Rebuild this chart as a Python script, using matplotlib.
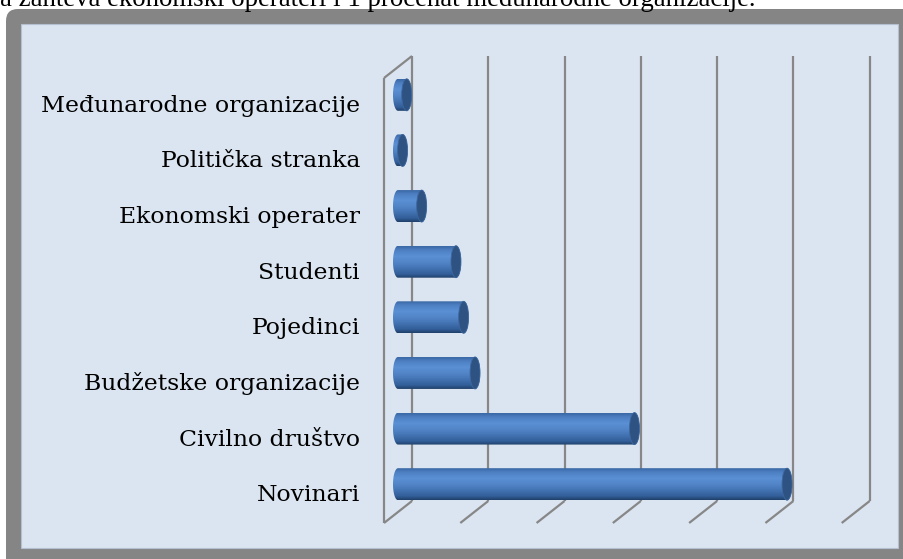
import numpy as np
import matplotlib
matplotlib.use("Agg")
import matplotlib.pyplot as plt
import matplotlib.transforms as mtransforms
from matplotlib.colors import LinearSegmentedColormap
from matplotlib.patches import FancyBboxPatch, Rectangle, Ellipse, PathPatch
from matplotlib.path import Path

# data (bottom to top)
categories = ["Novinari", "Civilno društvo", "Budžetske organizacije", "Pojedinci",
              "Studenti", "Ekonomski operater", "Politička stranka",
              "Međunarodne organizacije"]
values = [255, 155, 50.5, 43, 38, 15.5, 3, 5.7]
grid_ticks = [0, 50, 100, 150, 200, 250, 300]
caption = "a zahteva ekonomski operateri i 1 procenat međunarodne organizacije."

W, H = 904, 559
fig = plt.figure(figsize=(W / 100, H / 100), dpi=100)
fig.patch.set_facecolor("white")

# gray frame + light blue chart area
frame = FancyBboxPatch((0.06, -0.5), 10.5, 6.0,
                       boxstyle="round,pad=0,rounding_size=0.12",
                       transform=fig.dpi_scale_trans, facecolor="#858585",
                       edgecolor="none", zorder=-3)
fig.patches.append(frame)
fig.patches.append(Rectangle((1.0, -0.5), 9.0, 6.0, transform=fig.dpi_scale_trans,
                             facecolor="#858585", edgecolor="none", zorder=-3))
inner = Rectangle((0.21, 0.11), 8.77, 5.24, transform=fig.dpi_scale_trans,
                  facecolor="#dbe5f1", edgecolor="#b4c0cf", linewidth=0.8,
                  zorder=-2)
fig.patches.append(inner)

fig.text(755 / W, 1 - 6 / H, caption, ha="right", va="baseline",
         fontsize=19.3, family="Liberation Serif", color="black")

# back wall of the 3d plot
ax_l, ax_r, ax_t, ax_b = 412, 869.7, 56, 501
ax = fig.add_axes([ax_l / W, (H - ax_b) / H, (ax_r - ax_l) / W, (ax_b - ax_t) / H])
ax.set_xlim(0, 300)
ax.set_ylim(-0.5, 7.5)
ax.axis("off")

px_x = (ax_r - ax_l) / 300.0
px_y = (ax_b - ax_t) / 8.0
depth_x, depth_y = -28, -22   # pixels from back plane to front plane


def shift(dx, dy):
    return ax.transData + mtransforms.ScaledTranslation(dx / 100, dy / 100,
                                                        fig.dpi_scale_trans)


grid_kw = dict(color="#878787", lw=1.6, clip_on=False, solid_capstyle="butt")
for t in grid_ticks:
    ax.plot([t, t], [-0.5, 7.5], **grid_kw)
    ax.plot([t, t + depth_x / px_x], [-0.5, -0.5 + depth_y / px_y], **grid_kw)
# left wall
front = shift(depth_x, depth_y)
ax.plot([0, 0], [-0.5, 7.5], transform=front, **grid_kw)
ax.plot([0, depth_x / px_x], [7.5, 7.5 + depth_y / px_y], **grid_kw)

# cylinders in the middle depth plane
mid = shift(depth_x / 2, depth_y / 2)
bar_h = 32 / px_y
cap_a = 5 / px_x
cmap = LinearSegmentedColormap.from_list(
    "cyl", [(0.0, "#20406a"), (0.12, "#335f9a"), (0.45, "#4f82c4"),
            (0.68, "#5b90d5"), (0.88, "#4d7fc2"), (1.0, "#3b68a5")])
grad = np.linspace(0, 1, 64).reshape(-1, 1)
th = np.linspace(-np.pi / 2, np.pi / 2, 40)

for i, v in enumerate(values):
    y0, y1 = i - bar_h / 2, i + bar_h / 2
    # right side goes top -> bottom, left side bottom -> top
    right = np.column_stack([v + cap_a * np.cos(th[::-1]), i + bar_h / 2 * np.sin(th[::-1])])
    left = np.column_stack([-cap_a * np.cos(th), i + bar_h / 2 * np.sin(th)])
    pts = np.vstack([right, left, right[:1]])
    body = PathPatch(Path(pts, closed=True),
                     transform=mid, facecolor="none", edgecolor="none", clip_on=False)
    ax.add_patch(body)
    im = ax.imshow(grad, cmap=cmap, origin="lower", aspect="auto",
                   extent=[-cap_a, v + cap_a, y0, y1], transform=mid,
                   interpolation="bilinear", zorder=2)
    im.set_clip_box(fig.bbox)
    im.set_clip_path(body)
    ax.add_patch(Ellipse((v, i), 2 * cap_a, bar_h, transform=mid, clip_on=False,
                         facecolor="#2e5383", edgecolor="#3d679e", lw=0.6, zorder=3))

ax.set_xlim(0, 300)
ax.set_ylim(-0.5, 7.5)

label_tr = shift(-52, depth_y)
for i, name in enumerate(categories):
    ax.text(0, i, name, transform=label_tr, ha="right", va="center",
            fontsize=16.9, family="DejaVu Serif", color="black", clip_on=False)

fig.savefig("out.png", dpi=100)
